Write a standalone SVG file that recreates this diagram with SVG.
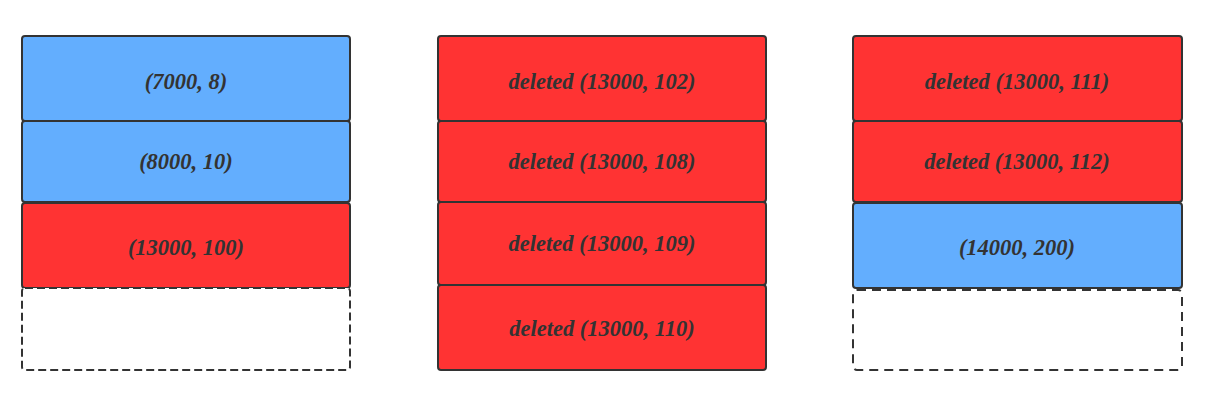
<svg xmlns="http://www.w3.org/2000/svg" width="1206" height="401" viewBox="0 0 1206 401">
<style>
.b{fill:#63aefe;stroke:#333;stroke-width:2}
.r{fill:#ff3333;stroke:#333;stroke-width:2}
.e{fill:#fff;stroke:#333;stroke-width:2}
.t{font-family:"Liberation Serif",serif;font-size:22.5px;font-weight:bold;font-style:italic;fill:#333;text-anchor:middle;dominant-baseline:central}
</style>
<rect width="1206" height="401" fill="#fff"/>
<g id="col1">
<g id="n1"><rect class="b" x="22" y="36" width="328" height="85" rx="3"/><text class="t" x="186" y="81">(7000, 8)</text></g>
<g id="n2"><rect class="b" x="22" y="121" width="328" height="81" rx="3"/><text class="t" x="186" y="161">(8000, 10)</text></g>
<g id="n3"><rect class="r" x="22" y="203" width="328" height="85" rx="3"/><text class="t" x="186" y="247">(13000, 100)</text></g>
<g id="n4"><rect class="e" x="22" y="288" width="328" height="82" rx="3" stroke-dasharray="8 4"/></g>
</g>
<g id="col2">
<g id="m1"><rect class="r" x="438" y="36" width="328" height="85" rx="3"/><text class="t" x="602" y="81">deleted (13000, 102)</text></g>
<g id="m2"><rect class="r" x="438" y="121" width="328" height="81" rx="3"/><text class="t" x="602" y="161">deleted (13000, 108)</text></g>
<g id="m3"><rect class="r" x="438" y="202" width="328" height="83" rx="3"/><text class="t" x="602" y="243">deleted (13000, 109)</text></g>
<g id="m4"><rect class="r" x="438" y="285" width="328" height="85" rx="3"/><text class="t" x="602" y="328">deleted (13000, 110)</text></g>
</g>
<g id="col3">
<g id="k1"><rect class="r" x="853" y="36" width="329" height="85" rx="3"/><text class="t" x="1017" y="81">deleted (13000, 111)</text></g>
<g id="k2"><rect class="r" x="853" y="121" width="329" height="81" rx="3"/><text class="t" x="1017" y="161">deleted (13000, 112)</text></g>
<g id="k3"><rect class="b" x="853" y="203" width="329" height="85" rx="3"/><text class="t" x="1017" y="247">(14000, 200)</text></g>
<g id="k4"><rect class="e" x="853" y="290" width="329" height="80" rx="4" stroke-dasharray="9 6"/></g>
</g>
<g id="connectors"/>
</svg>
